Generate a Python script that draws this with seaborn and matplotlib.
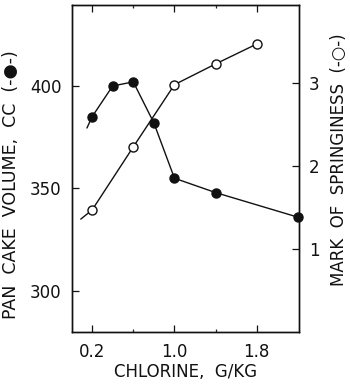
import matplotlib
matplotlib.use("Agg")
import matplotlib.pyplot as plt
import matplotlib.ticker as mticker
import seaborn as sns
import pandas as pd

# ---- data ----
chlorine = [0.2, 0.4, 0.6, 0.8, 1.0, 1.4, 2.2]
volume = [385, 400, 402, 382, 355, 348, 336]
spring_x = [0.2, 0.6, 1.0, 1.4, 1.8]
springiness = [1.47, 2.23, 2.98, 3.23, 3.47]
# lead-in line stubs drawn before the first measured point
volume_lead = (0.15, 379.5)
spring_lead = (0.09, 1.36)

x_ticks = [0.2, 1.0, 1.8]
x_ticklabels = ["0.2", "1.0", "1.8"]
x_minor = [0.6, 1.4]
left_ticks = [300, 350, 400]
right_ticks = [1, 2, 3]

sns.set_style("ticks")
plt.rcParams["font.family"] = ["DejaVu Sans"]

fig = plt.figure(figsize=(3.5, 3.84), dpi=100)
ax = fig.add_axes([0.2043, 0.1354, 0.650, 0.8516])
ax2 = ax.twinx()

vol_line = pd.DataFrame({"x": [volume_lead[0]] + chlorine, "y": [volume_lead[1]] + volume})
spr_line = pd.DataFrame({"x": [spring_lead[0]] + spring_x, "y": [spring_lead[1]] + springiness})
vol_pts = pd.DataFrame({"x": chlorine, "y": volume})
spr_pts = pd.DataFrame({"x": spring_x, "y": springiness})

lc = "#111111"
sns.lineplot(data=vol_line, x="x", y="y", ax=ax, color=lc, lw=1.0, sort=False)
ax.plot(vol_pts["x"], vol_pts["y"], ls="none", marker="o", ms=6.5, mfc=lc, mec=lc, clip_on=False, zorder=5)
sns.lineplot(data=spr_line, x="x", y="y", ax=ax2, color=lc, lw=1.0, sort=False)
ax2.plot(spr_pts["x"], spr_pts["y"], ls="none", marker="o", ms=6.5, mfc="white", mec=lc, mew=1.0, clip_on=False, zorder=5)

ax.set_xlim(0, 2.21)
ax.set_ylim(280, 439.5)
ax2.set_ylim(0, 3.94)

ax.set_xticks(x_ticks)
ax.set_xticklabels(x_ticklabels)
ax.set_xticks(x_minor, minor=True)
ax.set_yticks(left_ticks)
ax2.set_yticks(right_ticks)
ax.yaxis.set_minor_locator(mticker.NullLocator())
ax2.yaxis.set_minor_locator(mticker.NullLocator())

fs = 12
ax.tick_params(axis="x", which="major", direction="in", length=5, width=0.9, top=True, labelsize=fs, pad=8, colors=lc)
ax.tick_params(axis="x", which="minor", direction="in", length=2.5, width=0.9, top=True)
ax.tick_params(axis="y", which="both", direction="in", length=5, width=0.9, labelsize=fs, pad=7, colors=lc)
ax2.tick_params(axis="y", which="both", direction="in", length=5, width=0.9, labelsize=fs, pad=7, colors=lc)

for a in (ax, ax2):
    for s in a.spines.values():
        s.set_linewidth(1.0)
        s.set_color(lc)
        s.set_visible(True)

ax.set_xlabel("CHLORINE,  G/KG", fontsize=12, color=lc)
ax.set_ylabel("PAN  CAKE  VOLUME,  CC  (-●-)", fontsize=12.5, color=lc)
ax2.set_ylabel("MARK  OF  SPRINGINESS  (-○-)", fontsize=12, color=lc)
ax.xaxis.set_label_coords(0.5, -0.095)
ax.yaxis.set_label_coords(-0.225, 0.45)
ax2.yaxis.set_label_coords(1.135, 0.526)

fig.savefig("out.png", dpi=100)
